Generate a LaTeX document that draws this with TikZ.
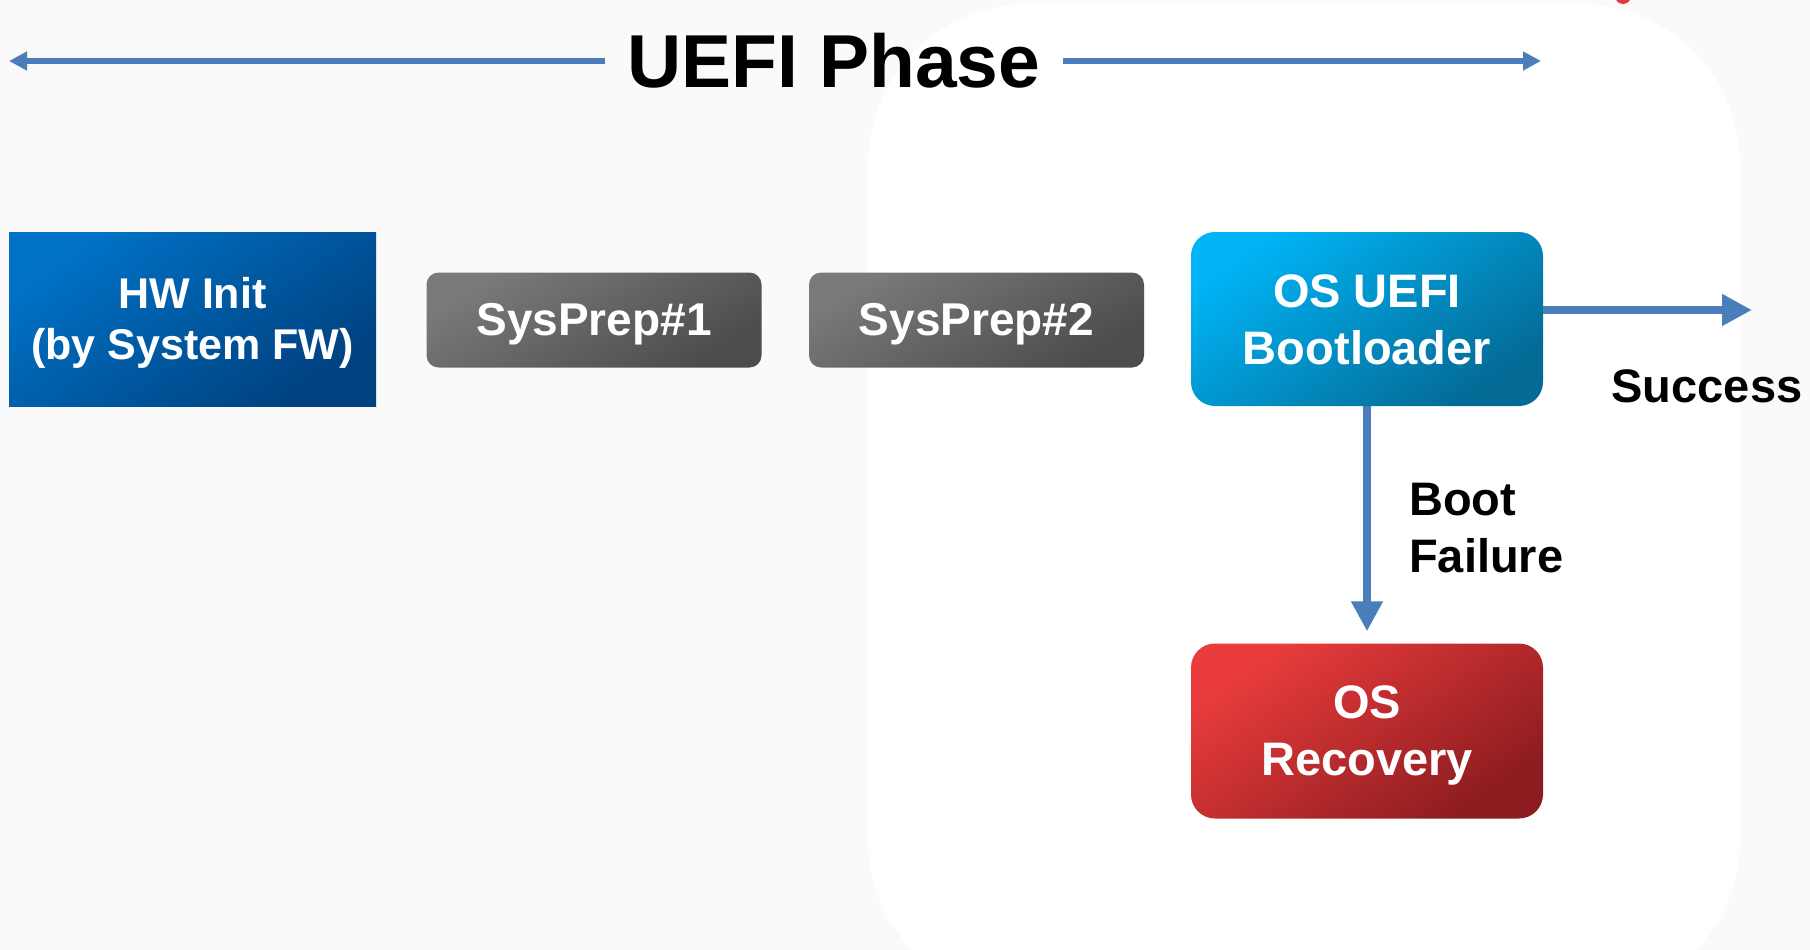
\documentclass[tikz,border=0pt]{standalone}
\usepackage{fontspec}
\setmainfont{Liberation Sans}
\usetikzlibrary{arrows.meta}

\definecolor{pagegrey}{HTML}{FAFAFA}
\definecolor{flowblue}{HTML}{4A7EBB}
\definecolor{hwA}{HTML}{0072C6}
\definecolor{hwB}{HTML}{00417F}
\definecolor{prepA}{HTML}{7A7A7A}
\definecolor{prepB}{HTML}{4C4C4C}
\definecolor{bootA}{HTML}{00B4F5}
\definecolor{bootB}{HTML}{046A96}
\definecolor{recA}{HTML}{EA3C3C}
\definecolor{recB}{HTML}{8C1C1F}
\definecolor{dotred}{HTML}{E53838}

% strut whose height minus depth equals the cap height, so caps sit centred;
% kept shorter than the baselineskip so line spacing stays as set
\newcommand\capline{\rule[-0.18em]{0pt}{1.076em}}

\begin{document}
\begin{tikzpicture}[x=1pt,y=-1pt,
  boxtext/.style={inner sep=0pt, text=white, align=center,
    font=\fontsize{47}{57}\selectfont\bfseries},
  hwbox/.style={boxtext, minimum width=367pt, minimum height=174pt,
    top color=hwA, bottom color=hwB, shading angle=35,
    font=\fontsize{43}{51}\selectfont\bfseries},
  prepbox/.style={boxtext, minimum width=335pt, minimum height=95pt,
    rounded corners=12pt, top color=prepA, bottom color=prepB, shading angle=30,
    font=\fontsize{46}{55}\selectfont\bfseries},
  bootbox/.style={boxtext, minimum width=352pt, minimum height=174pt,
    rounded corners=24pt, top color=bootA, bottom color=bootB, shading angle=35},
  recbox/.style={boxtext, minimum width=352pt, minimum height=175pt,
    rounded corners=24pt, top color=recA, bottom color=recB, shading angle=35},
  tag/.style={inner sep=0pt, text=black, font=\fontsize{47}{57}\selectfont\bfseries},
  phasearrow/.style={draw=flowblue, line width=6pt,
    -{Triangle[length=18pt,width=18pt]}},
  flowarrow/.style={draw=flowblue, line width=8.5pt,
    -{Triangle[length=30pt,width=30pt]}},
]
  \useasboundingbox (0,0) rectangle (1810,950);

  % page background and the white panel behind the OS part
  \fill[pagegrey] (0,0) rectangle (1810,950);
  \fill[white, rounded corners=160pt] (868,4) rectangle (1740,1000);
  \fill[dotred] (1623,-4) circle (8pt);

  % title with its span arrows
  \node[inner xsep=22pt, inner ysep=0pt, font=\fontsize{75}{90}\selectfont\bfseries]
    (title) at (834,61) {\capline UEFI Phase};
  \coordinate (phaseL) at (9,61);
  \coordinate (phaseR) at (1541,61);
  \draw[phasearrow] (title.west) -- (phaseL);
  \draw[phasearrow] (title.east) -- (phaseR);

  % boot stages
  \node[hwbox] (hw) at (192.5,319) {\capline HW Init\\\capline(by System FW)};
  \node[prepbox] (prep1) at (594,320) {\capline SysPrep\#1};
  \node[prepbox] (prep2) at (976.5,320) {\capline SysPrep\#2};
  \node[bootbox] (boot) at (1367,319) {\capline OS UEFI\\\capline Bootloader};
  \node[recbox] (rec) at (1367,731) {\capline OS\\\capline Recovery};

  % outcomes of the bootloader
  \coordinate (done) at (1752,310);
  \draw[flowarrow] (boot.east |- done) -- (done);
  \node[tag] (success) at (1707,386) {\capline Success};

  \draw[flowarrow, shorten >=12pt] (boot.south) -- (rec.north);
  \node[tag, anchor=west, align=left] (fail) at (1409,527.5)
    {\capline Boot\\\capline Failure};
\end{tikzpicture}
\end{document}
